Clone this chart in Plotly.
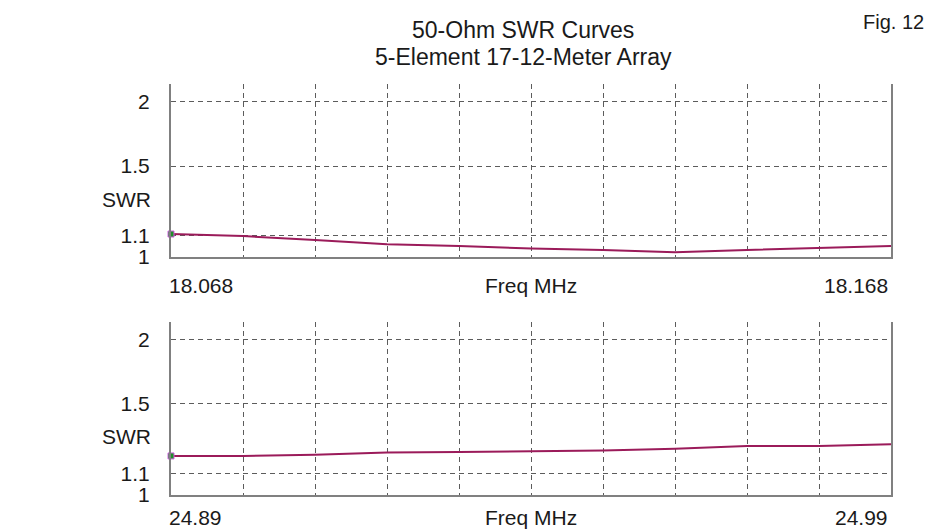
import math
import plotly.graph_objects as go

# ---- data ----
freq_17 = [18.068, 18.078, 18.088, 18.098, 18.108, 18.118, 18.128, 18.138, 18.148, 18.158, 18.168]
swr_17 = [1.108, 1.098, 1.079, 1.058, 1.050, 1.039, 1.032, 1.021, 1.032, 1.040, 1.050]

freq_12 = [24.89, 24.90, 24.91, 24.92, 24.93, 24.94, 24.95, 24.96, 24.97, 24.98, 24.99]
swr_12 = [1.190, 1.190, 1.197, 1.208, 1.211, 1.214, 1.219, 1.229, 1.244, 1.244, 1.254]

swr_ticks = [1, 1.1, 1.5, 2]
swr_tick_text = ["1", "1.1", "1.5", "2"]

title_lines = ["50-Ohm SWR Curves", "5-Element 17-12-Meter Array"]
fig_label = "Fig. 12"
x_title = "Freq MHz"
y_title = "SWR"

W, H = 928, 530
FONT = "Liberation Sans, Arial, sans-serif"
TXT = "#1a1a1a"
CURVE = "#9b1b5a"
AXC = "#808080"
GRIDC = "#5c5c5c"

fig = go.Figure()

panels = [
    (freq_17, swr_17, "x", "y"),
    (freq_12, swr_12, "x2", "y2"),
]
for fx, fy, xa, ya in panels:
    fig.add_trace(go.Scatter(x=fx, y=fy, mode="lines", xaxis=xa, yaxis=ya,
                             line=dict(color=CURVE, width=2), showlegend=False,
                             hoverinfo="skip"))
    fig.add_trace(go.Scatter(x=fx[:1], y=fy[:1], mode="markers", xaxis=xa, yaxis=ya,
                             marker=dict(symbol="square", size=6, color="#1f8f2a",
                                         line=dict(color="#d060e0", width=1)),
                             showlegend=False, hoverinfo="skip", cliponaxis=False))

x_dom = [171 / W, 891 / W]
y_dom_top = [(H - 257) / H, (H - 84) / H]
y_dom_bot = [(H - 495) / H, (H - 321.7) / H]

def xaxis_cfg(freqs, anchor):
    return dict(domain=x_dom, range=[freqs[0], freqs[-1]], anchor=anchor,
                showline=True, linecolor=AXC, linewidth=2, mirror=False,
                showgrid=True, gridcolor=GRIDC, gridwidth=1, griddash="5px,4px",
                tickmode="array", tickvals=freqs, showticklabels=False, ticks="",
                zeroline=False, fixedrange=True, automargin=False)

def yaxis_cfg(dom, anchor):
    return dict(domain=dom, type="log", range=[0, 0.3353], anchor=anchor,
                showline=True, linecolor=AXC, linewidth=2, mirror=True,
                showgrid=True, gridcolor=GRIDC, gridwidth=1, griddash="5px,4px",
                tickmode="array", tickvals=swr_ticks, ticktext=swr_tick_text,
                ticks="outside", ticklen=15, tickcolor="rgba(0,0,0,0)",
                tickfont=dict(family=FONT, size=21, color=TXT),
                zeroline=False, fixedrange=True, automargin=False)

fig.update_layout(
    width=W, height=H,
    margin=dict(l=0, r=0, t=0, b=0),
    paper_bgcolor="white", plot_bgcolor="white",
    showlegend=False,
    xaxis=xaxis_cfg(freq_17, "y"),
    yaxis=yaxis_cfg(y_dom_top, "x"),
    xaxis2=xaxis_cfg(freq_12, "y2"),
    yaxis2=yaxis_cfg(y_dom_bot, "x2"),
)

annos = []
lab_font = dict(family=FONT, size=21, color=TXT)
for freqs, xr, yr, ydom_ref, fmt, ysh in [(freq_17, "x", "y", "y domain", "{:.3f}", -15),
                                          (freq_12, "x2", "y2", "y2 domain", "{:.2f}", -9)]:
    annos.append(dict(text=fmt.format(freqs[0]),
                      xref=xr, yref=ydom_ref, x=freqs[0], y=0,
                      xanchor="left", yanchor="top", xshift=-4, yshift=ysh,
                      showarrow=False, font=lab_font))
    annos.append(dict(text=fmt.format(freqs[-1]),
                      xref=xr, yref=ydom_ref, x=freqs[-1], y=0,
                      xanchor="right", yanchor="top", xshift=-1, yshift=ysh,
                      showarrow=False, font=lab_font))
    annos.append(dict(text=x_title, xref=xr, yref=ydom_ref, x=freqs[5], y=0,
                      xanchor="center", yanchor="top", yshift=ysh,
                      showarrow=False, font=lab_font))
    annos.append(dict(text=y_title, xref="paper", yref=yr, x=153 / W,
                      y=math.log10(1.295), xanchor="right", yanchor="middle",
                      showarrow=False, font=lab_font))

annos.append(dict(text=title_lines[0], xref="paper", yref="paper", x=523 / W,
                  y=1 - 30 / H, xanchor="center", yanchor="middle", showarrow=False,
                  font=dict(family=FONT, size=23, color=TXT)))
annos.append(dict(text=title_lines[1], xref="paper", yref="paper", x=523 / W,
                  y=1 - 57 / H, xanchor="center", yanchor="middle", showarrow=False,
                  font=dict(family=FONT, size=23, color=TXT)))
annos.append(dict(text=fig_label, xref="paper", yref="paper", x=926 / W,
                  y=1 - 22 / H, xanchor="right", yanchor="middle", showarrow=False,
                  font=dict(family=FONT, size=20, color=TXT)))

fig.update_layout(annotations=annos)

fig.write_html("out.html",
               config={"displayModeBar": False, "staticPlot": True},
               post_script="document.body.style.margin='0';document.body.style.overflow='hidden';")
